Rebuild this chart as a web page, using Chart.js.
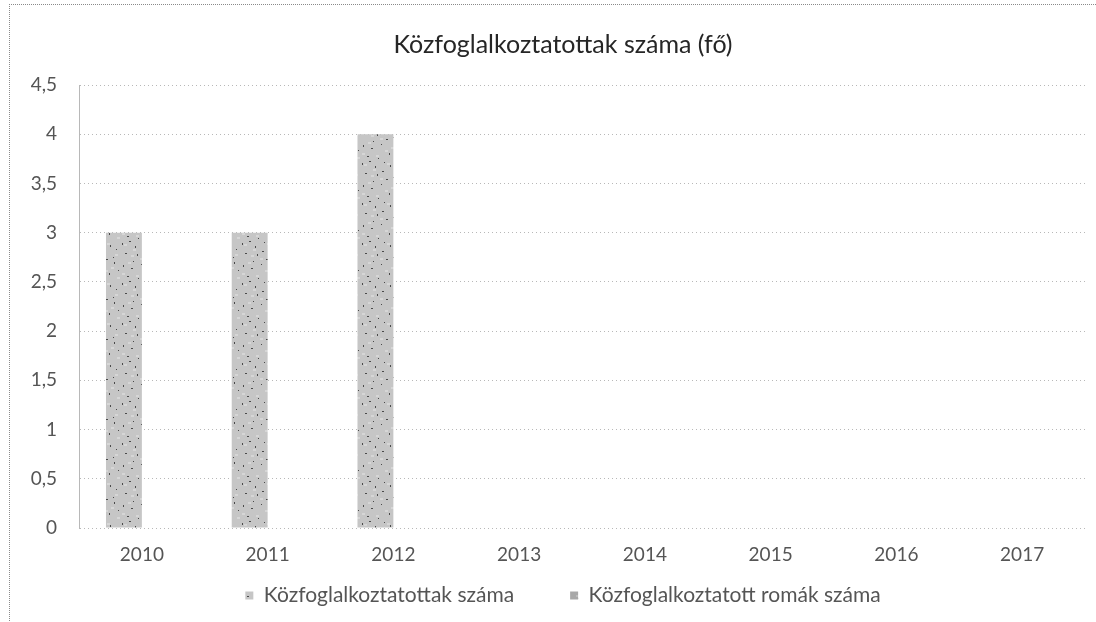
<!DOCTYPE html>
<html><head><meta charset="utf-8">
<script src="https://cdn.jsdelivr.net/npm/chart.js@4/dist/chart.umd.min.js"></script>
<style>
html,body{margin:0;padding:0;background:#fff;}
#wrap{position:absolute;left:0;top:0;width:1096px;height:622px;}
#frame{position:absolute;left:9px;top:4px;width:1090px;height:620px;border-top:1px dotted #8a8a8a;border-left:1px dotted #8a8a8a;pointer-events:none;}
</style></head>
<body>
<div id="wrap"><canvas id="c" width="1096" height="622"></canvas><div id="frame"></div></div>
<script>
const categories = ['2010','2011','2012','2013','2014','2015','2016','2017'];
const seriesNames = ['Közfoglalkoztatottak száma','Közfoglalkoztatott romák száma'];
const workers = [3, 3, 4, 0, 0, 0, 0, 0];
const roma = [0, 0, 0, 0, 0, 0, 0, 0];
const yTicks = [0, 0.5, 1, 1.5, 2, 2.5, 3, 3.5, 4, 4.5];
const titleText = 'Közfoglalkoztatottak száma (fő)';

function makePattern(base, light, dot){
  const n = 40;
  const p = document.createElement('canvas');
  p.width = n; p.height = n;
  const g = p.getContext('2d');
  g.fillStyle = base; g.fillRect(0,0,n,n);
  g.fillStyle = light;
  const lpts = [[4,4],[13,9],[27,3],[35,14],[8,22],[20,18],[31,27],[2,33],[16,35],[25,30],[37,37],[11,15]];
  lpts.forEach(([x,y])=>g.fillRect(x,y,3,2));
  g.fillStyle = dot;
  const pts = [[2,3,1,2],[9,1,2,1],[15,6,1,2],[22,11,2,1],[30,5,1,2],[36,9,1,1],[5,13,2,1],[17,14,1,2],[26,19,2,1],[34,22,1,2],
               [3,25,1,2],[11,28,2,1],[21,24,1,1],[29,33,1,2],[38,30,1,1],[7,36,2,1],[18,38,1,1],[24,2,1,1],[13,21,1,1],[33,17,1,1]];
  pts.forEach(([x,y,w,h])=>g.fillRect(x,y,w,h));
  return g.createPattern(p,'repeat');
}
const ctx = document.getElementById('c').getContext('2d');
const pat1 = makePattern('#c6c6c6','#d6d6d6','#4a4a4a');
const pat2 = makePattern('#a8a8a8','#bcbcbc','#333333');

new Chart(ctx, {
  type: 'bar',
  data: {
    labels: categories,
    datasets: [
      {label: seriesNames[0], data: workers, backgroundColor: pat1, borderWidth: 0},
      {label: seriesNames[1], data: roma, backgroundColor: pat2, borderWidth: 0}
    ]
  },
  options: {
    responsive: false,
    animation: false,
    devicePixelRatio: 1,
    layout: {padding: {left: 41, right: 11, top: 30, bottom: 6}},
    datasets: {bar: {categoryPercentage: 0.571, barPercentage: 1}},
    scales: {
      x: {
        afterFit: s => { s.height = 1; },
        grid: {display: false, drawTicks: false},
        border: {display: false},
        ticks: {color: '#555555', font: {family: 'Lato', size: 19}, padding: 15, maxRotation: 0, autoSkip: false}
      },
      y: {
        min: 0, max: 4.5,
        afterBuildTicks: s => { s.ticks = yTicks.map(v => ({value: v})); },
        afterFit: s => { s.width = 38; },
        grid: {color: '#b8b8b8', lineWidth: 1, drawTicks: false, tickLength: 0},
        border: {display: true, color: '#b8b8b8', dash: [1,3]},
        ticks: {color: '#555555', font: {family: 'Lato', size: 19}, padding: 22,
          callback: v => String(v).replace('.', ',')}
      }
    },
    plugins: {
      title: {display: true, text: titleText, color: '#262626',
        font: {family: 'Lato', size: 25, weight: 'normal'}, padding: {top: 0, bottom: 25}},
      legend: {position: 'bottom',
        labels: {boxWidth: 8, boxHeight: 8, color: '#555555', padding: 56,
          font: {family: 'Lato', size: 21}}},
      tooltip: {enabled: false}
    }
  },
  plugins: [{
    id: 'noLabelClip',
    afterLayout(chart){
      Object.values(chart.scales).forEach(s => { s._computeLabelArea = () => undefined; });
      chart.scales.y.options.grid.borderDash = [1,3];
    }
  }]
});
</script>
</body></html>
